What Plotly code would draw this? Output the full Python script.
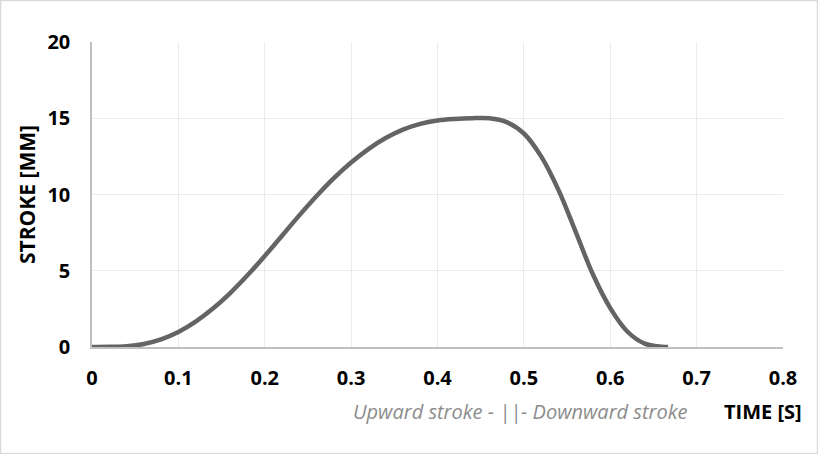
import plotly.graph_objects as go

time_s = [0, 0.02, 0.04, 0.06, 0.08, 0.1, 0.12, 0.14, 0.16, 0.18, 0.2, 0.22, 0.24, 0.26,
          0.28, 0.3, 0.32, 0.34, 0.36, 0.38, 0.4, 0.42, 0.44, 0.46, 0.48, 0.5, 0.52, 0.54,
          0.56, 0.58, 0.6, 0.62, 0.64, 0.66, 0.667]
stroke_mm = [0, 0.01, 0.05, 0.2, 0.5, 0.98, 1.66, 2.52, 3.54, 4.7, 5.97, 7.3, 8.63, 9.9,
             11.07, 12.1, 12.98, 13.7, 14.25, 14.63, 14.85, 14.95, 15.0, 15.0, 14.75, 14.0, 12.5, 10.3,
             7.55, 4.75, 2.55, 1.0, 0.22, 0.02, 0]

x_ticks = [0, 0.1, 0.2, 0.3, 0.4, 0.5, 0.6, 0.7, 0.8]
x_tick_labels = ["0", "0.1", "0.2", "0.3", "0.4", "0.5", "0.6", "0.7", "0.8"]
y_ticks = [0, 5, 10, 15, 20]
y_tick_labels = ["0", "5", "10", "15", "20"]

FONT = "Open Sans"

fig = go.Figure()
fig.add_trace(go.Scatter(
    x=time_s, y=stroke_mm, mode="lines",
    line=dict(color="#646464", width=4.5, shape="spline", smoothing=1.0),
    hoverinfo="skip", showlegend=False,
))

fig.update_layout(
    width=818, height=454,
    margin=dict(l=92, r=35, t=42, b=107),
    paper_bgcolor="white", plot_bgcolor="white",
    font=dict(family=FONT, color="black"),
    xaxis=dict(
        range=[0, 0.8], tickvals=x_ticks, ticktext=x_tick_labels,
        showgrid=True, gridcolor="#ebebeb", gridwidth=1,
        showline=True, linecolor="#bfbfbf", linewidth=1.5,
        zeroline=False, ticks="", ticklabelstandoff=12,
        tickfont=dict(family=FONT, size=20, color="black", weight="bold"),
    ),
    yaxis=dict(
        range=[0, 20], tickvals=y_ticks, ticktext=y_tick_labels,
        showgrid=True, gridcolor="#ebebeb", gridwidth=1,
        showline=True, linecolor="#bfbfbf", linewidth=1.5,
        zeroline=False, ticks="", ticklabelstandoff=16,
        tickfont=dict(family=FONT, size=20, color="black", weight="bold"),
        title=dict(text="STROKE [MM]", standoff=6,
                   font=dict(family=FONT, size=21, color="black", weight="bold")),
    ),
    annotations=[
        dict(text="TIME [S]", xref="paper", yref="paper", x=1.03, y=-0.21,
             xanchor="right", yanchor="middle", showarrow=False,
             font=dict(family=FONT, size=20, color="black", weight="bold")),
        dict(text="<i>Upward stroke - ||- Downward stroke</i>", xref="paper", yref="paper",
             x=0.62, y=-0.21, xanchor="center", yanchor="middle", showarrow=False,
             font=dict(family=FONT, size=20, color="#8c8c8c")),
    ],
    shapes=[
        dict(type="rect", xref="paper", yref="paper",
             x0=-91.5/691, x1=1+34.5/691, y0=-106.5/305, y1=1+41.5/305,
             line=dict(color="#d9d9d9", width=1.5), fillcolor="rgba(0,0,0,0)", layer="below"),
    ],
)

fig.write_html("out.html", config={"displayModeBar": False},
               post_script="document.body.style.margin='0';document.body.style.overflow='hidden';")
